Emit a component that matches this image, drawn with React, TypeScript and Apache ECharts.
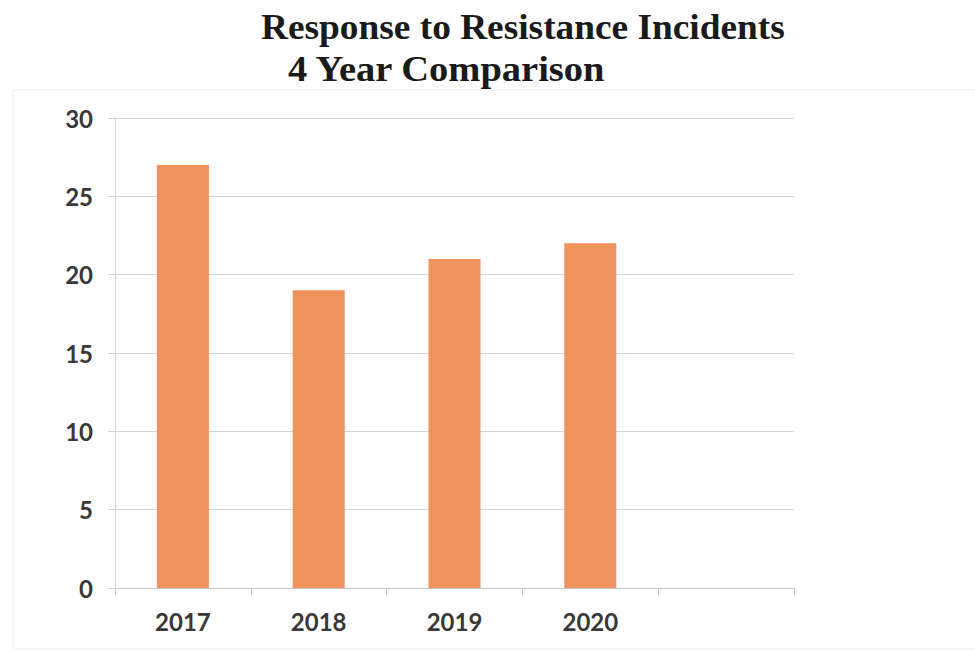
import React, { useEffect, useRef } from "react";
import * as echarts from "echarts";

// Incidents per year; the trailing empty category leaves a blank slot on the axis
const years = ["2017", "2018", "2019", "2020", ""];
const incidents = [27, 19, 21, 22, null];
const yTicks = { min: 0, max: 30, interval: 5 };
const titleLine1 = "Response to Resistance Incidents";
const titleLine2 = "4 Year Comparison";

export default function App() {
  const ref = useRef<HTMLDivElement>(null);

  useEffect(() => {
    if (!ref.current) return;
    const chart = echarts.init(ref.current, null, { renderer: "svg" });
    const labelFont = { fontFamily: "Lato", fontWeight: "bold", fontSize: 24, color: "#383838" };
    const titleFont = { fontFamily: "Liberation Serif", fontWeight: "bold", fontSize: 35, fill: "#1a1a1a" };
    chart.setOption({
      animation: false,
      backgroundColor: "#ffffff",
      graphic: [
        {
          type: "rect",
          shape: { x: 13, y: 90, width: 975, height: 559 },
          style: { fill: "none", stroke: "#ececec", lineWidth: 1 },
          silent: true,
          z: -1,
        },
        {
          type: "text",
          x: 261,
          y: 27,
          scaleX: 1.067,
          style: { ...titleFont, text: titleLine1, align: "left", verticalAlign: "middle" },
        },
        {
          type: "text",
          x: 288,
          y: 69,
          scaleX: 1.1,
          style: { ...titleFont, text: titleLine2, align: "left", verticalAlign: "middle" },
        },
      ],
      grid: { left: 115, right: 181, top: 118, bottom: 64, containLabel: false },
      xAxis: {
        type: "category",
        data: years,
        boundaryGap: true,
        axisLine: { lineStyle: { color: "#c8c8c8", width: 1 } },
        axisTick: { show: true, length: 7, lineStyle: { color: "#c8c8c8" } },
        axisLabel: { ...labelFont, margin: 21, interval: 0 },
      },
      yAxis: {
        type: "value",
        min: yTicks.min,
        max: yTicks.max,
        interval: yTicks.interval,
        axisLine: { show: true, lineStyle: { color: "#d4d4d4", width: 1 } },
        axisTick: { show: true, length: 7, lineStyle: { color: "#d4d4d4" } },
        axisLabel: { ...labelFont, margin: 22 },
        splitLine: { show: true, lineStyle: { color: "#d6d6d6", width: 1 } },
      },
      series: [
        {
          type: "bar",
          data: incidents,
          barWidth: 52,
          itemStyle: { color: "#F0925C" },
        },
      ],
    });
    return () => chart.dispose();
  }, []);

  return (
    <div
      ref={ref}
      style={{ position: "fixed", left: 0, top: 0, width: 975, height: 652 }}
    />
  );
}
